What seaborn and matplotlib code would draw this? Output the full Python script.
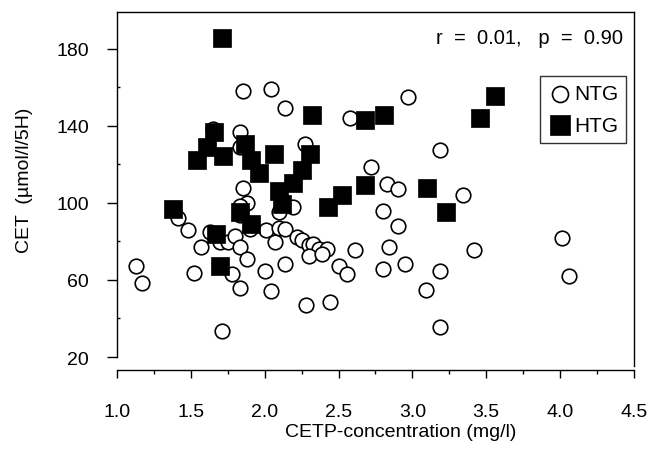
import seaborn as sns
import pandas as pd
import numpy as np
import matplotlib.pyplot as plt
from matplotlib.ticker import FixedLocator

# datos: concentracion CETP (mg/l) y CET (umol/l/5H)
ntg_cetp = [1.85, 2.04, 2.14, 1.65, 1.83, 1.83, 2.27, 2.97, 2.58, 3.19,
            2.72, 2.83, 2.90, 3.34, 1.85, 1.88, 1.83, 1.83, 1.90, 2.10,
            2.19, 2.80, 2.90, 1.41, 1.48, 1.13, 1.17, 1.57, 1.52, 1.63,
            1.70, 1.75, 1.80, 1.83, 1.88, 1.78, 1.83, 1.71, 2.01, 2.10,
            2.14, 2.07, 2.22, 2.25, 2.30, 2.33, 2.37, 2.42, 2.30, 2.39,
            2.14, 2.00, 2.04, 2.28, 2.44, 2.61, 2.84, 3.42, 2.50, 2.56,
            2.80, 2.95, 3.19, 3.09, 3.19, 4.01, 4.06]
ntg_cet = [158, 159, 149, 138.5, 136.5, 129, 130.5, 155, 144, 127.5,
           118.5, 110, 107, 104, 107.5, 100, 98.5, 93.5, 86.5, 95,
           98, 95.5, 88, 92, 86, 67, 58.5, 77, 63.5, 85,
           79.5, 79.5, 83, 77, 71, 63, 56, 33.5, 86, 87,
           86.5, 79.5, 82.5, 80.5, 78, 78.5, 76, 76, 72.5, 73.5,
           68.5, 64.5, 54.5, 47, 48.5, 75.5, 77, 75.5, 67, 63,
           65.5, 68.5, 64.5, 55, 35.5, 82, 62]

htg_cetp = [1.71, 1.66, 1.61, 1.54, 1.72, 1.87, 1.91, 1.96, 2.06, 2.10,
            2.12, 2.19, 2.25, 2.31, 2.32, 2.68, 2.81, 3.46, 3.56, 2.68,
            3.10, 2.52, 2.43, 3.23, 1.38, 1.67, 1.70, 1.83, 1.91]
htg_cet = [185.5, 136.5, 129, 122, 124.5, 130.5, 122, 115.5, 125.5, 106,
           99.5, 110.5, 117, 125.5, 145.5, 143, 145.5, 144, 155.5, 109,
           107.5, 104, 98, 95, 97, 84, 67, 95, 89]

x_ticks = [1.0, 1.5, 2.0, 2.5, 3.0, 3.5, 4.0, 4.5]
y_ticks = [20, 60, 100, 140, 180]

df_ntg = pd.DataFrame({'CETP': ntg_cetp, 'CET': ntg_cet})
df_htg = pd.DataFrame({'CETP': htg_cetp, 'CET': htg_cet})

sns.set_style('ticks')
plt.rcParams['font.family'] = ['Liberation Sans', 'DejaVu Sans']
plt.rcParams['text.color'] = 'black'
plt.rcParams['axes.labelcolor'] = 'black'
plt.rcParams['xtick.color'] = 'black'
plt.rcParams['ytick.color'] = 'black'

fig = plt.figure(figsize=(6.52, 4.64), dpi=100)
ax = fig.add_axes([0.1794, 0.2284, 0.793, 0.7436])

# circulos blancos (NTG) y cuadrados negros (HTG)
sns.scatterplot(data=df_ntg, x='CETP', y='CET', marker='o', s=110,
                facecolor='white', edgecolor='black', linewidth=1.2,
                label='NTG', ax=ax, zorder=2)
sns.scatterplot(data=df_htg, x='CETP', y='CET', marker='s', s=155,
                color='black', edgecolor='black', linewidth=0.5,
                label='HTG', ax=ax, zorder=3)

ax.set_xlim(1.0, 4.5)
ax.set_ylim(20, 199)
ax.xaxis.set_major_locator(FixedLocator(x_ticks))
ax.xaxis.set_minor_locator(FixedLocator([t + 0.25 for t in x_ticks[:-1]]))
ax.yaxis.set_major_locator(FixedLocator(y_ticks))
ax.yaxis.set_minor_locator(FixedLocator([t + 20 for t in y_ticks[:-1]]))
ax.set_xticklabels([f'{v:.1f}' for v in x_ticks])
ax.set_yticklabels([str(v) for v in y_ticks])

# ejes al estilo del original: eje x separado del eje y
for lado in ['left', 'right', 'top', 'bottom']:
    ax.spines[lado].set_linewidth(1.0)
    ax.spines[lado].set_color('black')
ax.spines['bottom'].set_position(('outward', 9))
ax.spines['right'].set_bounds(15.3, 199)

ax.tick_params(axis='x', which='major', direction='out', length=6, width=1,
               pad=18, labelsize=14)
ax.tick_params(axis='x', which='minor', direction='out', length=3, width=1)
ax.tick_params(axis='y', which='major', direction='out', length=7, width=1,
               pad=13, labelsize=14)
ax.tick_params(axis='y', which='minor', direction='in', length=2, width=1)

ax.set_xlabel('CETP-concentration (mg/l)', fontsize=14)
ax.set_ylabel('CET  (µmol/l/5H)', fontsize=14)
ax.xaxis.set_label_coords(0.549, -0.19)
ax.yaxis.set_label_coords(-0.162, 0.516)

ax.text(0.979, 0.925, 'r  =  0.01,   p  =  0.90', transform=ax.transAxes,
        ha='right', va='center', fontsize=14.5)

leg = ax.legend(loc='upper right', bbox_to_anchor=(0.985, 0.815),
                borderaxespad=0, fontsize=15, frameon=True, fancybox=False,
                handletextpad=0.1, handlelength=1.1, borderpad=0.4,
                labelspacing=0.6, markerscale=1.1)
leg.get_frame().set_edgecolor('black')
leg.get_frame().set_linewidth(1.0)

plt.savefig('out.png', dpi=100)
plt.close()
